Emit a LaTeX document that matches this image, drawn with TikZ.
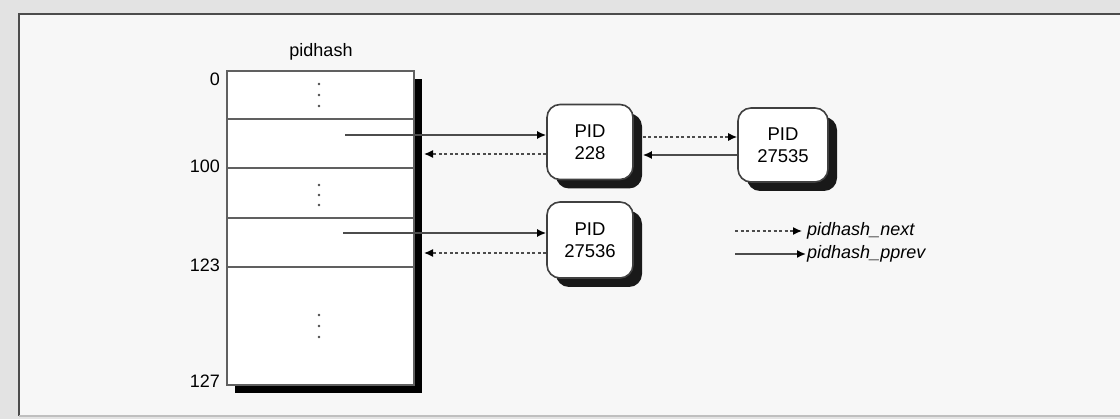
\documentclass[tikz,border=0pt]{standalone}
\usepackage{fontspec}
\setmainfont{Liberation Sans}
\usetikzlibrary{arrows.meta,calc,shadows}
\tikzset{
  lbl/.style    = {font=\fontsize{18}{21}\selectfont, inner sep=1pt},
  legtxt/.style = {font=\fontsize{18}{21}\selectfont\itshape, anchor=west},
  tab/.style    = {draw=gray!75!black, line width=1.6pt, fill=white, inner sep=0pt,
                   minimum width=187pt, minimum height=314pt,
                   general shadow={fill=black, shadow xshift=8pt, shadow yshift=-8pt}},
  pidbox/.style = {draw=black!75, line width=1.6pt, fill=white, rounded corners=13pt,
                   minimum width=86pt, minimum height=75pt, align=center,
                   font=\fontsize{18.5}{22}\selectfont,
                   general shadow={fill=black!90, shadow xshift=9pt, shadow yshift=-9pt}},
  row/.style    = {draw=gray!75!black, line width=1.6pt},
  nextp/.style  = {-{Latex[length=9pt,width=8pt,black]}, dash pattern=on 3pt off 2.5pt,
                   line width=1.4pt, gray!60!black},
  prevp/.style  = {-{Latex[length=9pt,width=8pt,black]}, line width=1.6pt, gray!60!black},
}
\begin{document}
\begin{tikzpicture}[x=1pt,y=-1pt]
  \useasboundingbox[fill=gray!22] (0,0) rectangle (1120,419);
  \fill[gray!6] (19,14) rectangle (1120,416);
  \draw[gray!60!black, line width=2.2pt] (1120,14) -- (19,14) -- (19,416);
  \draw[gray!50, line width=1.5pt] (19,416) -- (1120,416);

  % hash table
  \node[lbl] (title) at (321,52) {pidhash};
  \node[tab] (pidtab) at (320.5,228) {};
  \foreach \y in {119,168,218,267}
    \draw[row] (pidtab.west |- 0,\y) -- (pidtab.east |- 0,\y);
  \foreach \y in {84,95,106,185,195,205,315,326,337}
    \fill[gray!60!black] (319,\y) circle (1.4pt);
  \node[lbl, anchor=east] (i0)   at (221,79)  {0};
  \node[lbl, anchor=east] (i100) at (221,166) {100};
  \node[lbl, anchor=east] (i123) at (221,265) {123};
  \node[lbl, anchor=east] (i127) at (221,381) {127};

  % pid entries
  \node[pidbox] (p228) at (590,142) {PID\\228};
  \node[pidbox, minimum width=90pt, minimum height=74pt] (p27535) at (783,145) {PID\\27535};
  \node[pidbox, minimum height=76pt] (p27536) at (590,240) {PID\\27536};

  \coordinate (s228)      at (345,135);
  \coordinate (s27536)    at (343,233);
  \coordinate (back228)   at (424,154);
  \coordinate (back27536) at (424,253);

  \draw[prevp] (s228) -- (p228.west |- s228);
  \draw[nextp] (p228.west |- back228) -- (back228);
  \draw[prevp] (s27536) -- (p27536.west |- s27536);
  \draw[nextp] (p27536.west |- back27536) -- (back27536);

  \draw[nextp] ($(p228.east |- 0,137)+(9,0)$) -- (p27535.west |- 0,137);
  \draw[prevp] (p27535.west |- 0,155) -- ($(p228.east |- 0,155)+(9,0)$);

  % legend
  \coordinate (lnext) at (735,231);
  \coordinate (lprev) at (735,254);
  \node[legtxt, inner sep=5pt] (legnext) at (802,231) {pidhash\_next};
  \node[legtxt, inner sep=1pt] (legprev) at (806,254) {pidhash\_pprev};
  \draw[nextp] (lnext) -- (legnext.west);
  \draw[prevp] (lprev) -- (legprev.west);
\end{tikzpicture}
\end{document}
